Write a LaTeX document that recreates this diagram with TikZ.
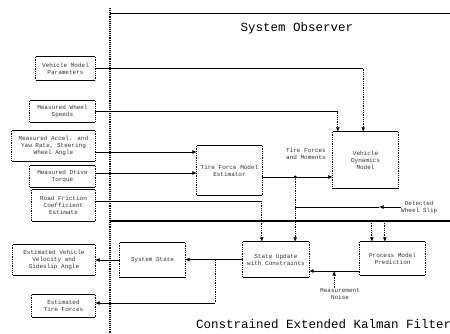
\documentclass[tikz,border=0pt]{standalone}
\usepackage{fontspec}
\newfontfamily\diafont{Liberation Mono}
\usetikzlibrary{arrows.meta,calc}
\begin{document}
\begin{tikzpicture}[x=1pt,y=-1pt,
  hl/.style={line width=0.8pt},
  vl/.style={densely dotted,line width=0.8pt},
  arr/.style={-{Latex[length=4.5pt,width=4pt]}},
  box/.style={font=\diafont\fontsize{6}{7}\selectfont, align=center, text=black!80, inner sep=0pt, anchor=center,
    append after command={
      (\tikzlastnode.north west) edge[hl] (\tikzlastnode.north east)
      (\tikzlastnode.south west) edge[hl] (\tikzlastnode.south east)
      (\tikzlastnode.north west) edge[vl] (\tikzlastnode.south west)
      (\tikzlastnode.north east) edge[vl] (\tikzlastnode.south east)}},
  lbl/.style={font=\diafont\fontsize{6}{7}\selectfont, align=center, text=black!80, inner sep=0pt},
  ttl/.style={font=\diafont\fontsize{12.5}{14}\selectfont, inner sep=0pt}
]
\useasboundingbox (0,0) rectangle (450,333);

% frame
\coordinate (fl0) at (110,8);
\coordinate (fl1) at (110,333);
\coordinate (ft0) at (110,13);
\coordinate (ft1) at (450,13);
\coordinate (s0) at (110,221);
\coordinate (s1) at (450,221);
\draw[densely dotted,line width=1.1pt] (fl0) -- (fl1);
\draw[line width=0.9pt] (ft0) -- (ft1);
\draw[line width=1.1pt] (s0) -- (s1);
\node[ttl] (so) at (297,28) {System Observer};
\node[ttl, anchor=base west] (ck) at (196,328) {Constrained Extended Kalman Filter};

% input boxes
\node[box, minimum width=59pt, minimum height=23pt] (b1) at (65.5,68.5) {Vehicle Model\\Parameters};
\node[box, minimum width=65pt, minimum height=21pt] (b2) at (62.5,111.5) {Measured Wheel\\Speeds};
\node[box, minimum width=83pt, minimum height=30pt] (b3) at (53.5,146) {Measured Accel. and\\Yaw Rate, Steering\\Wheel Angle};
\node[box, minimum width=65pt, minimum height=21pt] (b4) at (62.5,176.5) {Measured Drive\\Torque};
\node[box, minimum width=63pt, minimum height=31pt] (b5) at (63.5,205.5) {Road Friction\\Coefficient\\Estimate};

% observer blocks
\node[box, minimum width=65pt, minimum height=49pt] (est) at (229.5,170.5) {Tire Force Model\\Estimator};
\node[box, minimum width=65pt, minimum height=56pt] (rb) at (365.5,160) {Vehicle\\Dynamics\\Model};
\node[lbl] (tf) at (306,154) {Tire Forces\\and Moments};
\node[lbl, anchor=west] (det) at (401,207) {Detected\\Wheel Slip};

% filter blocks
\node[box, minimum width=65pt, minimum height=34pt] (ss) at (152.5,260) {System State};
\node[box, minimum width=66pt, minimum height=35pt] (mb) at (276,259.5) {State Update\\with Constraints};
\node[box, minimum width=65pt, minimum height=33pt] (pb) at (392.5,258.5) {Process Model\\Prediction};
\node[lbl] (meas) at (340,294) {Measurement\\Noise};

% output boxes
\node[box, minimum width=82pt, minimum height=30pt] (b6) at (54,260) {Estimated Vehicle\\Velocity and\\Sideslip Angle};
\node[box, minimum width=63pt, minimum height=22pt] (b7) at (63.5,306) {Estimated\\Tire Forces};

% connectors: observer
\coordinate (c1) at ($(rb.north east)+(-35,0)$);
\draw[hl] (b1.east) -- (b1.east -| c1);
\draw[vl,arr] (b1.east -| c1) -- (c1);
\coordinate (c2) at ($(rb.north west)+(5,0)$);
\draw[hl] (b2.east) -- (b2.east -| c2);
\draw[vl,arr] (b2.east -| c2) -- (c2);
\coordinate (p3) at ($(b3.east)+(0,6)$);
\draw[hl,arr] (p3) -- (p3 -| est.west);
\coordinate (p4) at ($(b4.east)+(0,-3.5)$);
\draw[hl,arr] (p4) -- (p4 -| est.west);
\coordinate (p5) at ($(est.east)+(0,6.5)$);
\draw[hl,arr] (p5) -- (p5 -| rb.west);
\coordinate (c5) at ($(mb.north east)+(-14,0)$);
\coordinate (j1) at (p5 -| c5);
\fill (j1) circle (1.6pt);
\draw[vl,arr] (j1) -- (c5);
\coordinate (d1) at (379,207);
\draw[hl,arr] (det.west) -- (d1);
\draw[hl] (d1) -- (d1 -| c5);
\coordinate (p6) at ($(b5.east)+(0,-4.5)$);
\coordinate (c6) at ($(mb.north west)+(19,0)$);
\draw[hl] (p6) -- (p6 -| c6);
\draw[vl,arr] (p6 -| c6) -- (c6);

% connectors: filter
\coordinate (c7) at ($(pb.north west)+(12,0)$);
\coordinate (c8) at ($(pb.north west)+(25,0)$);
\draw[vl,arr] (c7 |- s0) -- (c7);
\draw[vl,arr] (c8 |- s0) -- (c8);
\coordinate (p9) at ($(pb.west)+(0,12.5)$);
\draw[hl,arr] (p9) -- (p9 -| mb.east);
\coordinate (j9) at ($(p9 -| mb.east)+(25,0)$);
\draw[vl,arr] (j9 |- meas.north) -- (j9);
\draw[hl,arr] (mb.west) -- (mb.west -| ss.east);
\coordinate (j10) at ($(ss.east)+(30,0)$);
\coordinate (p11) at ($(b7.east)+(0,-3)$);
\draw[vl] (j10) -- (j10 |- p11);
\draw[hl,arr] (j10 |- p11) -- (p11);
\draw[hl,arr] (ss.west) -- (ss.west -| b6.east);
\end{tikzpicture}
\end{document}
